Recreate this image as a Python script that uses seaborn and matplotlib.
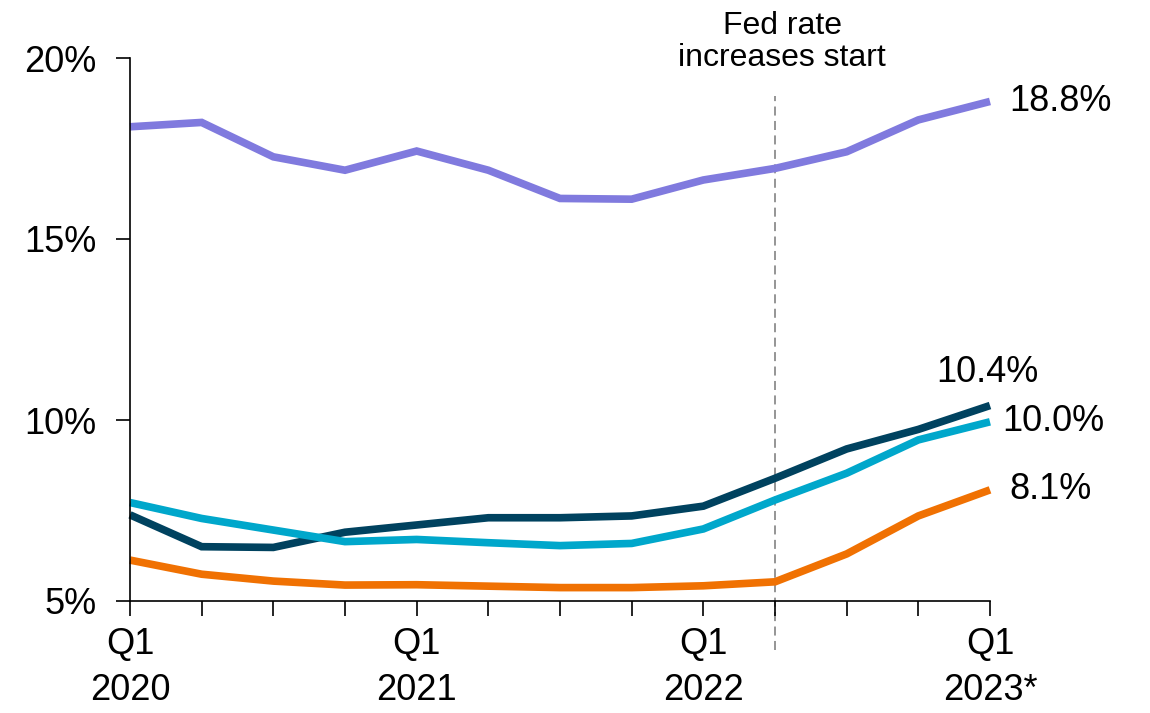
import matplotlib
matplotlib.use('Agg')
import matplotlib.pyplot as plt
import seaborn as sns
import pandas as pd

quarters = ['Q1\n2020', '', '', '', 'Q1\n2021', '', '', '', 'Q1\n2022', '', '', '', 'Q1\n2023*']
purple_vals = [18.1, 18.22, 17.27, 16.9, 17.43, 16.9, 16.12, 16.1, 16.63, 16.95, 17.41, 18.29, 18.8]
navy_vals = [7.38, 6.5, 6.48, 6.9, 7.1, 7.3, 7.3, 7.35, 7.62, 8.39, 9.2, 9.74, 10.4]
teal_vals = [7.72, 7.28, 6.96, 6.64, 6.7, 6.61, 6.53, 6.59, 6.99, 7.79, 8.53, 9.45, 9.95]
orange_vals = [6.13, 5.74, 5.55, 5.44, 5.45, 5.41, 5.37, 5.37, 5.42, 5.53, 6.3, 7.35, 8.07]
end_labels = ['18.8%', '10.4%', '10.0%', '8.1%']
series_names = ['purple', 'navy', 'teal', 'orange']
colors = {'purple': '#807ADE', 'navy': '#00425F', 'teal': '#00A7CB', 'orange': '#F07102'}
fed_start = 9  # Q2 2022

rows = []
for name, vals in zip(series_names, [purple_vals, navy_vals, teal_vals, orange_vals]):
    for i, v in enumerate(vals):
        rows.append({'q': i, 'value': v, 'series': name})
df = pd.DataFrame(rows)

sns.set_style('white')
plt.rcParams['font.family'] = ['Liberation Sans', 'DejaVu Sans']
plt.rcParams['text.color'] = 'black'
plt.rcParams['xtick.color'] = 'black'
plt.rcParams['ytick.color'] = 'black'

fig = plt.figure(figsize=(11.5, 7.13), dpi=100)
ax = fig.add_axes([130/1150, 112/713, 860/1150, 543/713])

sns.lineplot(data=df, x='q', y='value', hue='series', palette=colors,
             linewidth=5.5, legend=False, ax=ax, clip_on=False)
for line in ax.lines:
    line.set_solid_capstyle('butt')
    line.set_solid_joinstyle('miter')

ax.axvline(fed_start, ymin=-0.09, ymax=0.93, color='#8c8c8c', lw=1.3,
           ls=(0, (5, 3)), clip_on=False, zorder=0)
ax.text(fed_start + 0.1, 20.45, 'Fed rate\nincreases start', ha='center', va='center',
        fontsize=23, linespacing=1.1)

ax.set_xlim(0, 12)
ax.set_ylim(5, 20)
ax.set_xticks(range(13))
ax.set_xticklabels(quarters, fontsize=26, linespacing=1.4)
ax.set_yticks([5, 10, 15, 20])
ax.set_yticklabels(['5%', '10%', '15%', '20%'], fontsize=26)
ax.tick_params(axis='x', direction='out', length=11, width=1.2, color='black', pad=8, bottom=True)
ax.tick_params(axis='y', direction='out', length=10, width=1.2, color='black', pad=14, left=True)
for s in ['top', 'right']:
    ax.spines[s].set_visible(False)
for s in ['left', 'bottom']:
    ax.spines[s].set_color('black')
    ax.spines[s].set_linewidth(1.2)
ax.set_xlabel('')
ax.set_ylabel('')

last = len(quarters) - 1
ax.text(last + 0.27, purple_vals[-1], end_labels[0], fontsize=26, va='center', ha='left')
ax.text(last - 0.03, navy_vals[-1] + 0.9, end_labels[1], fontsize=26, va='center', ha='center')
ax.text(last + 0.17, teal_vals[-1], end_labels[2], fontsize=26, va='center', ha='left')
ax.text(last + 0.27, orange_vals[-1], end_labels[3], fontsize=26, va='center', ha='left')

fig.savefig('out.png', dpi=100)
